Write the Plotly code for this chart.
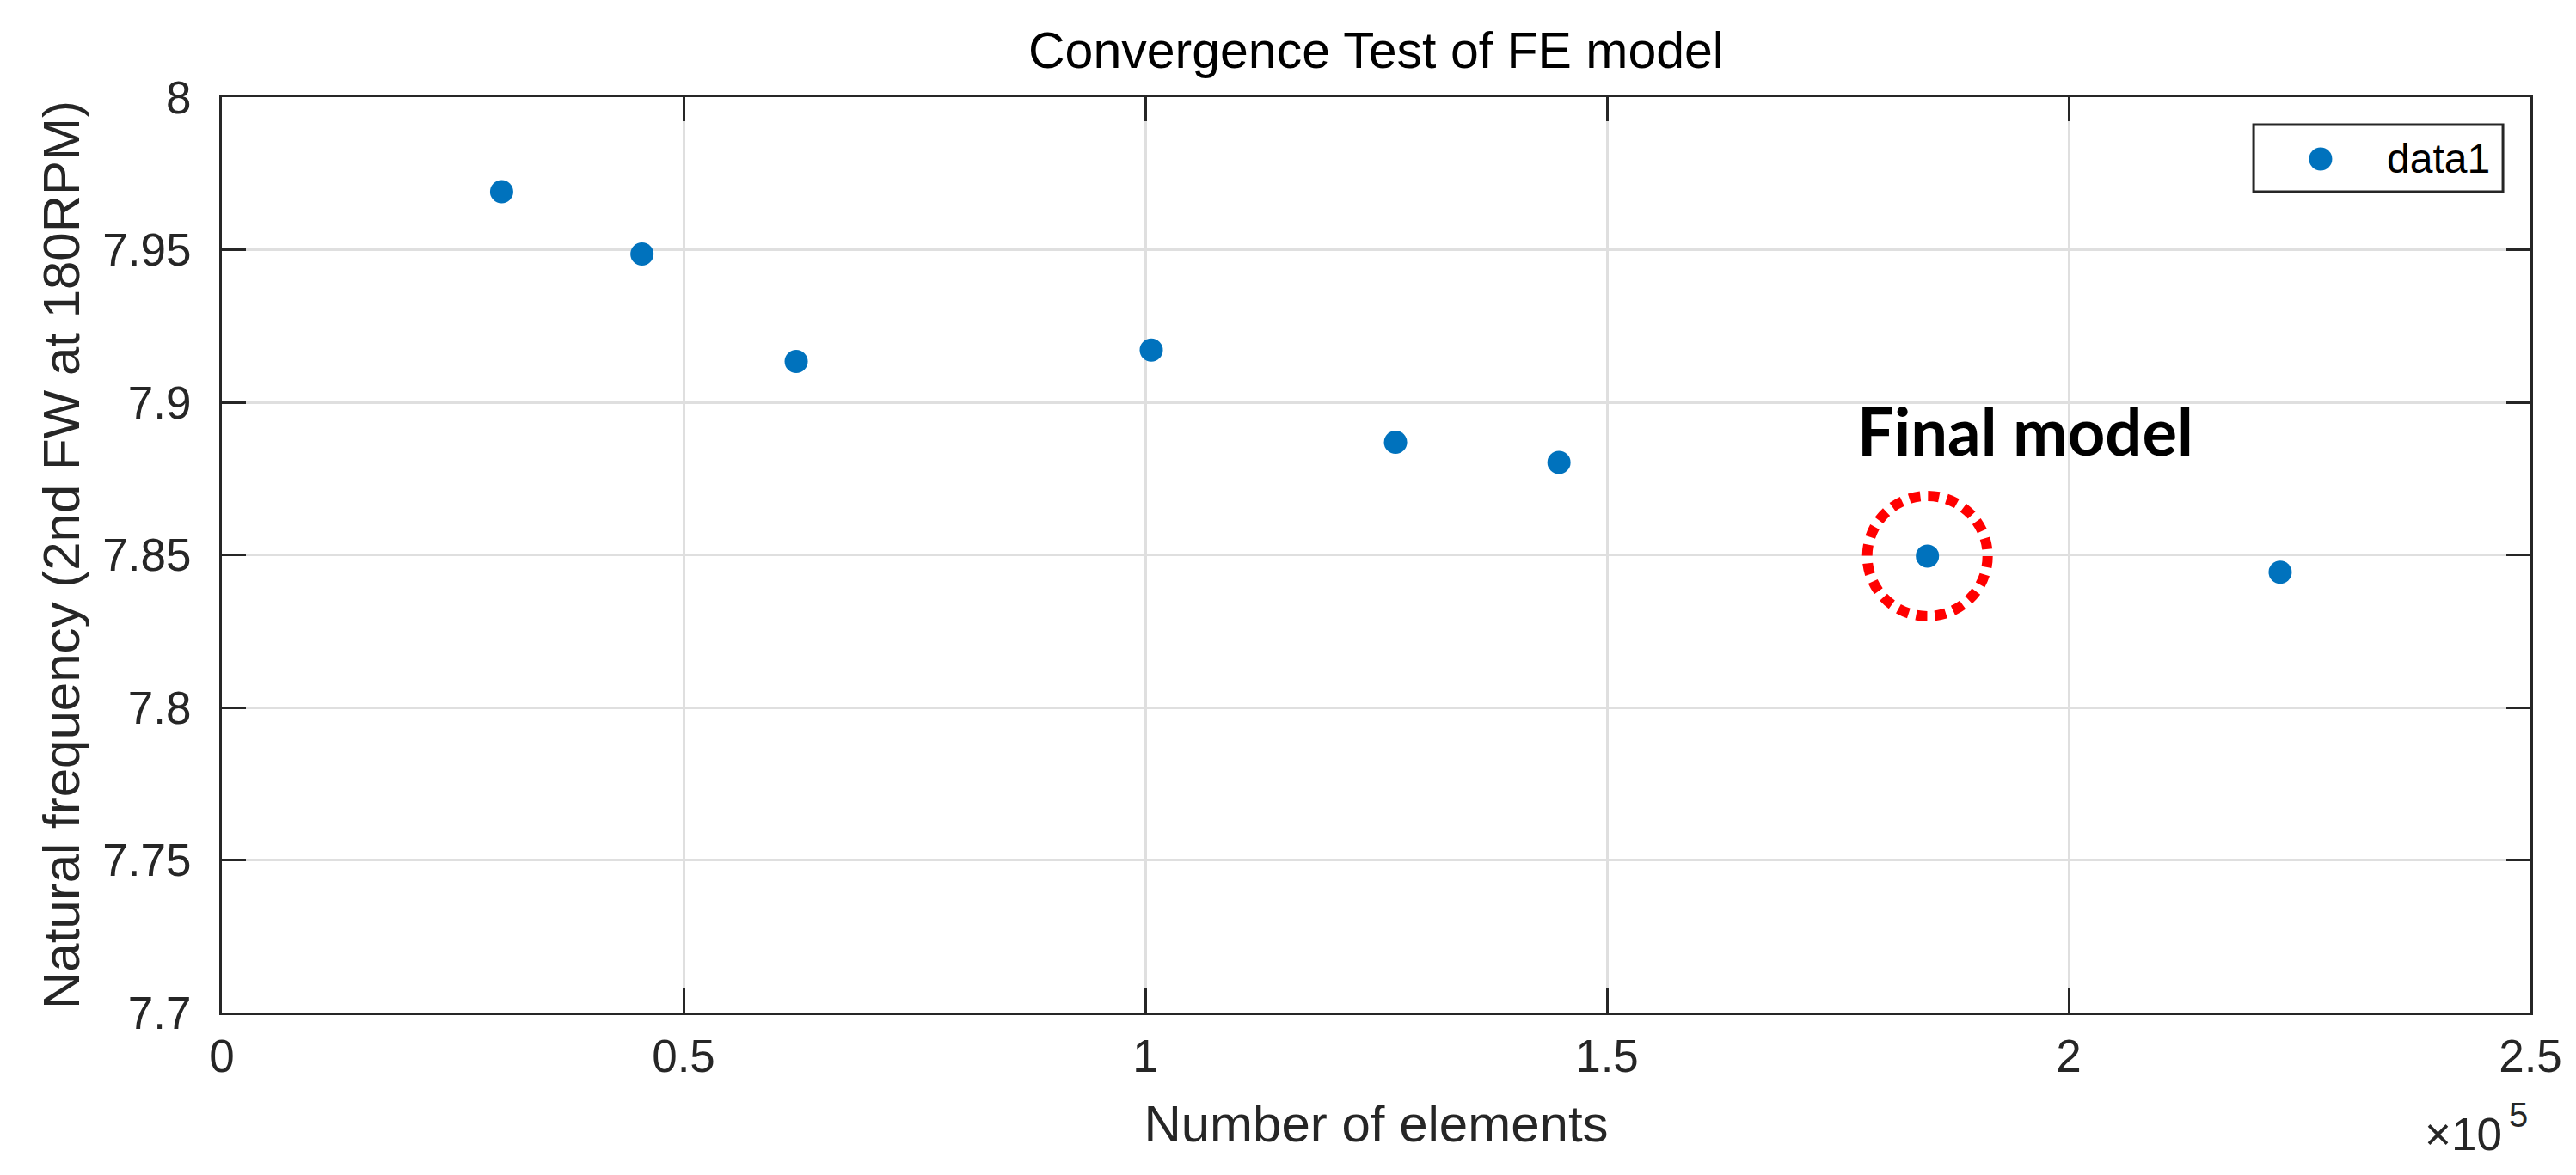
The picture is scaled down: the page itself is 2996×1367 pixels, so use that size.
import plotly.graph_objects as go

# ---- data ----
num_elements = [30300, 45500, 62200, 100650, 127100, 144800, 184700, 222900]
nat_freq = [7.9690, 7.9486, 7.9134, 7.9171, 7.8869, 7.8803, 7.8496, 7.8443]
series_name = "data1"
final_index = 6
final_label = "Final model"

x_tickvals = [0, 50000, 100000, 150000, 200000, 250000]
x_ticktext = ["0", "0.5", "1", "1.5", "2", "2.5"]
y_tickvals = [7.7, 7.75, 7.8, 7.85, 7.9, 7.95, 8.0]
y_ticktext = ["7.7", "7.75", "7.8", "7.85", "7.9", "7.95", "8"]

title_text = "Convergence Test of FE model"
x_title = "Number of elements"
y_title = "Natural frequency (2nd FW at 180RPM)"
x_exp_base = "×10"
x_exp_power = "5"

# ---- styles ----
W, H = 2996, 1367
ML, MR, MT, MB = 250, 61, 105, 197
AX = "#262626"
GRID = "#dfdfdf"
BLUE = "#0072BD"
FONT = "Liberation Sans, Arial, Helvetica, sans-serif"
TICK_SIZE = 53
LABEL_SIZE = 60
EXP_SIZE = 40

fig = go.Figure()
fig.add_trace(go.Scatter(
    x=num_elements, y=nat_freq, mode="markers", name=series_name,
    marker=dict(size=27, color=BLUE, line=dict(width=0)),
    showlegend=False,
))

axis_common = dict(
    showline=True, linecolor=AX, linewidth=3, mirror="ticks",
    ticks="inside", ticklen=28, tickwidth=3, tickcolor=AX,
    showgrid=True, gridcolor=GRID, gridwidth=2.5, zeroline=False,
    tickfont=dict(family=FONT, size=TICK_SIZE, color=AX),
)

fig.update_xaxes(
    range=[0, 250000], tickvals=x_tickvals, ticktext=x_ticktext,
    ticklabelstandoff=2,
    title=dict(text=x_title, font=dict(family=FONT, size=LABEL_SIZE, color=AX), standoff=30),
    **axis_common,
)
fig.update_yaxes(
    range=[7.7, 8.0], tickvals=y_tickvals, ticktext=y_ticktext,
    ticklabelstandoff=22,
    title=dict(text=y_title, font=dict(family=FONT, size=LABEL_SIZE, color=AX), standoff=8),
    **axis_common,
)

# red dotted circle around the final model point
fx, fy = num_elements[final_index], nat_freq[final_index]
fig.add_shape(
    type="circle", xref="x", yref="y", xsizemode="pixel", ysizemode="pixel",
    xanchor=fx, yanchor=fy, x0=-70, x1=70, y0=-70, y1=70,
    line=dict(color="#FF0000", width=12, dash="13px,9px"), layer="above",
)
fig.add_annotation(
    x=fx, y=fy, xref="x", yref="y", text="<b>" + final_label + "</b>",
    showarrow=False, xshift=114, yshift=146,
    font=dict(family="Lato, Open Sans, sans-serif", size=76, color="#000000", weight=900),
)

# exponent label (x10 with raised 5)
fig.add_annotation(
    x=1, y=0, xref="paper", yref="paper", xanchor="right", yanchor="middle",
    text=x_exp_base, showarrow=False, yshift=-141, xshift=-31,
    font=dict(family=FONT, size=TICK_SIZE, color=AX),
)
fig.add_annotation(
    x=1, y=0, xref="paper", yref="paper", xanchor="right", yanchor="middle",
    text=x_exp_power, showarrow=False, yshift=-119, xshift=-1,
    font=dict(family=FONT, size=EXP_SIZE, color=AX),
)

# legend box (drawn manually so the marker keeps its true size)
fig.add_shape(type="rect", xref="paper", yref="paper",
              x0=0.8801, x1=0.9881, y0=0.8967, y1=0.9700,
              line=dict(color=AX, width=3), fillcolor="white", layer="above")
fig.add_shape(type="circle", xref="paper", yref="paper", xsizemode="pixel", ysizemode="pixel",
              xanchor=0.9091, yanchor=0.9324, x0=-13.5, x1=13.5, y0=-13.5, y1=13.5,
              line=dict(width=0), fillcolor=BLUE, layer="above")
fig.add_annotation(x=0.9371, y=0.9324, xref="paper", yref="paper", xanchor="left", yanchor="middle",
                   text=series_name, showarrow=False,
                   font=dict(family=FONT, size=48, color="#000000"))

fig.update_layout(
    width=W, height=H,
    margin=dict(l=ML, r=MR, t=MT, b=MB, autoexpand=False),
    paper_bgcolor="white", plot_bgcolor="white",
    title=dict(text=title_text, x=(ML + (W - MR - ML) / 2) / W, xanchor="center",
               y=1 - 50 / H, yanchor="middle", yref="container",
               font=dict(family=FONT, size=59, color="#000000")),
    showlegend=False,
)

fig.write_html("out.html")
